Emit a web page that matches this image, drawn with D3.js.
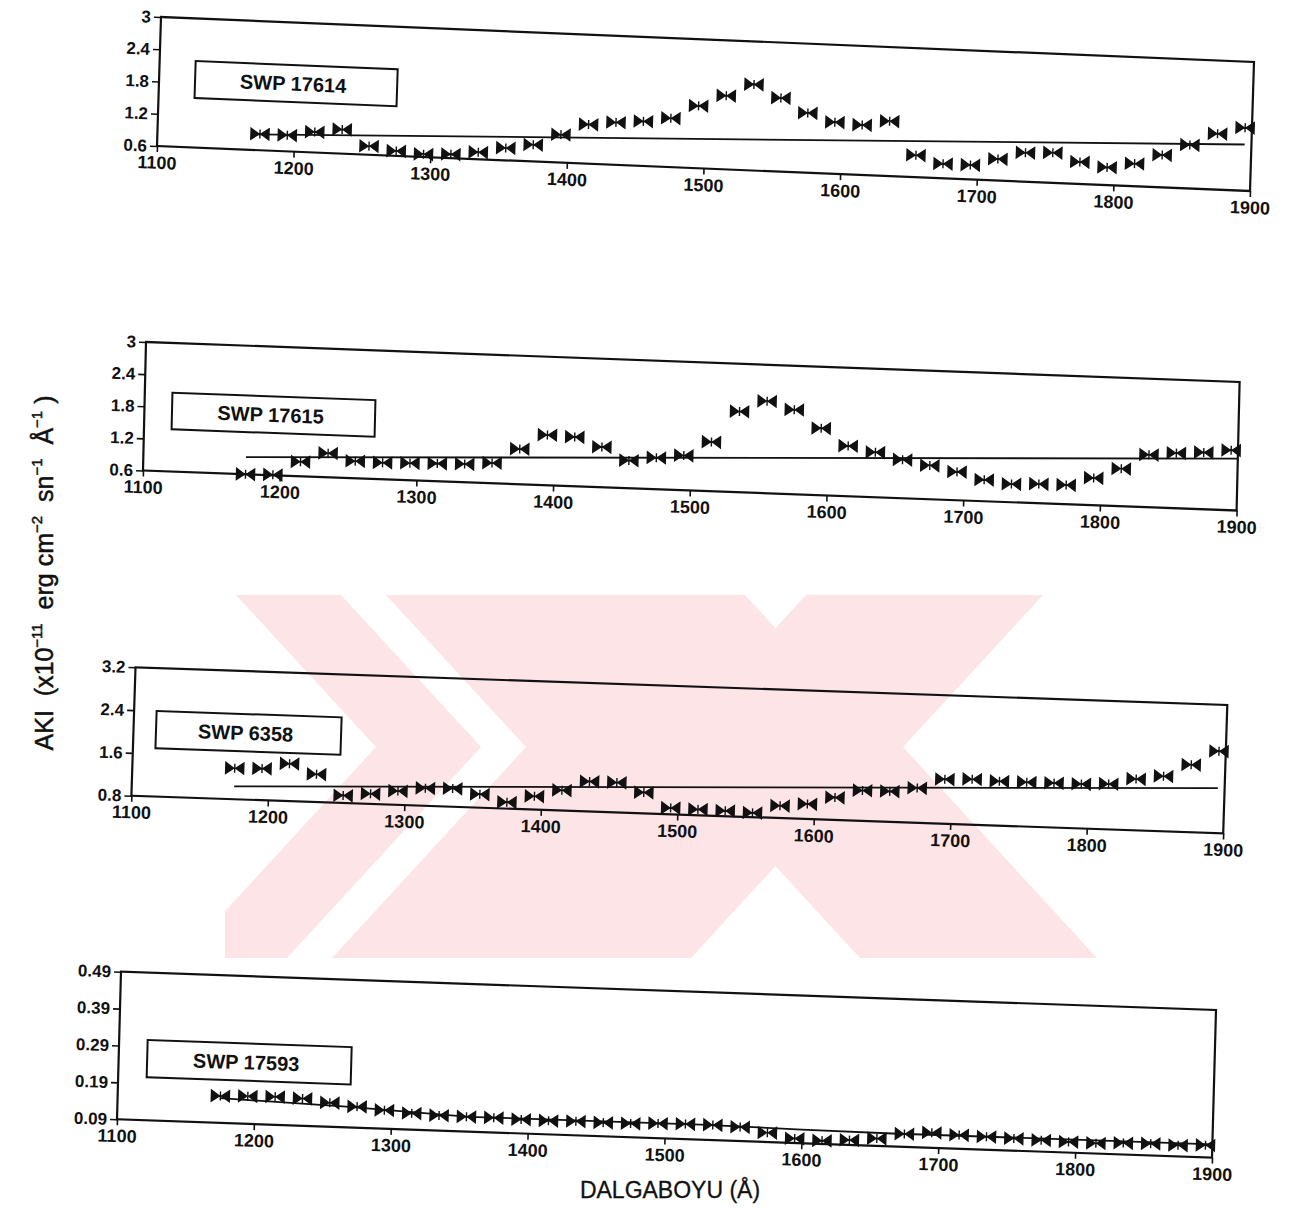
<!DOCTYPE html>
<html>
<head>
<meta charset="utf-8">
<script src="https://cdn.jsdelivr.net/npm/d3@7/dist/d3.min.js"></script>
<style>
html,body{margin:0;padding:0;background:#fff;}
svg{display:block;font-family:"Liberation Sans",Arial,Helvetica,sans-serif;}
</style>
</head>
<body>
<svg id="chart" width="1290" height="1208"></svg>
<script>
// ---------------- DATA ----------------
const wavelengths = [1175,1195,1215,1235,1255,1275,1295,1315,1335,1355,1375,1395,1415,1435,1455,1475,1495,1515,1535,1555,1575,1595,1615,1635,1655,1675,1695,1715,1735,1755,1775,1795,1815,1835,1855,1875,1895];

const swp17614 = [0.90,0.90,0.98,1.05,0.76,0.69,0.65,0.67,0.73,0.83,0.91,1.12,1.33,1.39,1.43,1.51,1.76,1.97,2.20,1.97,1.71,1.56,1.53,1.62,1.01,0.87,0.87,1.00,1.14,1.16,1.01,0.93,1.02,1.20,1.41,1.64,1.77];
const swp17615 = [0.60,0.61,0.87,1.05,0.92,0.91,0.92,0.93,0.94,0.98,1.26,1.54,1.52,1.35,1.12,1.19,1.25,1.52,2.11,2.32,2.18,1.85,1.54,1.44,1.32,1.23,1.13,1.00,0.94,0.96,0.96,1.11,1.30,1.58,1.63,1.66,1.72];
const swp6358  = [1.38,1.39,1.50,1.32,0.94,0.99,1.06,1.13,1.14,1.05,0.92,1.05,1.18,1.36,1.36,1.19,0.92,0.91,0.90,0.88,1.03,1.08,1.22,1.37,1.37,1.45,1.63,1.65,1.63,1.63,1.63,1.63,1.65,1.76,1.83,2.06,2.33];
const swp17593 = [0.163,0.165,0.166,0.164,0.155,0.147,0.140,0.134,0.131,0.130,0.130,0.128,0.127,0.128,0.127,0.127,0.130,0.131,0.131,0.128,0.115,0.102,0.099,0.103,0.110,0.125,0.131,0.127,0.125,0.123,0.121,0.119,0.118,0.121,0.122,0.120,0.123];

// continuum lines [wavelength, value]
const cont17614 = [[1169,0.89],[1895,1.46]];
const cont17615 = [[1175,0.92],[1900,1.57]];
const cont6358  = [[1175,1.04],[1895,1.64]];
const cont17593 = [[1175,0.157],[1267,0.146],[1357,0.130],[1526,0.131],[1600,0.127],[1666,0.125],[1900,0.126]];

const xTickValues = [1100,1200,1300,1400,1500,1600,1700,1800,1900];
const yTicks17614 = [0.6,1.2,1.8,2.4,3];
const yLabels17614 = ["0.6","1.2","1.8","2.4","3"];
const yTicks17615 = [0.6,1.2,1.8,2.4,3];
const yLabels17615 = ["0.6","1.2","1.8","2.4","3"];
const yTicks6358 = [0.8,1.6,2.4,3.2];
const yLabels6358 = ["0.8","1.6","2.4","3.2"];
const yTicks17593 = [0.09,0.19,0.29,0.39,0.49];
const yLabels17593 = ["0.09","0.19","0.29","0.39","0.49"];

const panelNames = ["SWP 17614","SWP 17615","SWP 6358","SWP 17593"];
const xTitle = "DALGABOYU (Å)";

// ---------------- LAYOUT (scanned, slightly sheared panels) ----------------
const panels = [
  {name:panelNames[0], values:swp17614, cont:cont17614, yDomain:[0.6,3],   yTicks:yTicks17614, yLabels:yLabels17614,
   TL:[161,17],    TR:[1254,62],    BL:[157,146],    box:[36,42.5,202,37]},
  {name:panelNames[1], values:swp17615, cont:cont17615, yDomain:[0.6,3],   yTicks:yTicks17615, yLabels:yLabels17615,
   TL:[146,342],   TR:[1239.6,382], BL:[143,470.5],  box:[27.6,49.7,203,36.6]},
  {name:panelNames[2], values:swp6358,  cont:cont6358,  yDomain:[0.8,3.2], yTicks:yTicks6358,  yLabels:yLabels6358,
   TL:[135.5,667.3],TR:[1227.3,705],BL:[131.4,795.7],box:[22.5,42.9,185,37.3]},
  {name:panelNames[3], values:swp17593, cont:cont17593, yDomain:[0.09,0.49],yTicks:yTicks17593, yLabels:yLabels17593,
   TL:[121,971.7], TR:[1216,1010],  BL:[117,1119.3], box:[28.5,67.3,204,37.3]}
];

const INK = "#111111";
const FONT = '"Liberation Sans", Arial, Helvetica, sans-serif';
const svg = d3.select("#chart");
svg.append("rect").attr("width",1290).attr("height",1208).attr("fill","#ffffff");

// ---------------- watermark (decorative) ----------------
const defs = svg.append("defs");
defs.append("clipPath").attr("id","wmclip")
  .append("rect").attr("x",225).attr("y",595).attr("width",890).attr("height",363);
const wm = svg.append("g").attr("clip-path","url(#wmclip)");
const wmPink = [
  [[236,595],[745,595],[885,747],[691,958],[182,958],[376,747]],
  [[806,595],[1043,595],[903,747],[1097,958],[860,958],[666,747]]
];
const wmWhite = [
  [[341,595],[386,595],[526,747],[332,958],[287,958],[481,747]]
];
wm.selectAll("polygon.p").data(wmPink).join("polygon").attr("class","p")
  .attr("fill","#fde4e7").attr("points", d => d.map(p => p.join(",")).join(" "));
wm.selectAll("polygon.w").data(wmWhite).join("polygon").attr("class","w")
  .attr("fill","#ffffff").attr("points", d => d.map(p => p.join(",")).join(" "));

// marker: bow-tie shape
const markerPath = "M-9,-5.5L-1,0L-9,5.5Z M9,-5.5L1,0L9,5.5Z M-9.5,0H9.5 M0,-4.5V4.5";

panels.forEach(P => {
  const W = P.TR[0]-P.TL[0], H = P.BL[1]-P.TL[1];
  const kb = (P.TR[1]-P.TL[1])/W, kc = (P.BL[0]-P.TL[0])/H;
  const g = svg.append("g").attr("transform", `matrix(1,${kb},${kc},1,${P.TL[0]},${P.TL[1]})`);

  const x = d3.scaleLinear().domain([1100,1900]).range([0,W]);
  const y = d3.scaleLinear().domain(P.yDomain).range([H,0]);

  // frame
  g.append("rect").attr("x",0).attr("y",0).attr("width",W).attr("height",H)
    .attr("fill","none").attr("stroke",INK).attr("stroke-width",2.2);

  // y axis
  const ya = g.append("g")
    .call(d3.axisLeft(y).tickValues(P.yTicks).tickFormat((d,j)=>P.yLabels[j]).tickSize(7).tickPadding(3));
  ya.select(".domain").remove();
  ya.attr("font-size",17).attr("font-family",FONT).attr("font-weight","bold");
  ya.selectAll("line").attr("stroke",INK).attr("stroke-width",1.6);
  ya.selectAll("text").attr("fill",INK);

  // x axis
  const xa = g.append("g").attr("transform",`translate(0,${H})`)
    .call(d3.axisBottom(x).tickValues(xTickValues).tickFormat(d3.format("d")).tickSize(6).tickPadding(4));
  xa.select(".domain").remove();
  xa.attr("font-size",18).attr("font-family",FONT).attr("font-weight","bold");
  xa.selectAll("line").attr("stroke",INK).attr("stroke-width",1.6);
  xa.selectAll("text").attr("fill",INK);

  // label box
  g.append("rect").attr("x",P.box[0]).attr("y",P.box[1]).attr("width",P.box[2]).attr("height",P.box[3])
    .attr("fill","none").attr("stroke",INK).attr("stroke-width",2);
  g.append("text").attr("x",P.box[0]+P.box[2]/2-3).attr("y",P.box[1]+P.box[3]/2).attr("dy","0.36em")
    .attr("text-anchor","middle").attr("font-size",20).attr("font-weight","bold")
    .attr("font-family",FONT).attr("fill",INK).text(P.name);

  // continuum line
  const lineGen = d3.line().x(d=>x(d[0])).y(d=>y(d[1]));
  g.append("path").datum(P.cont).attr("d",lineGen)
    .attr("fill","none").attr("stroke",INK).attr("stroke-width",1.8);

  // markers
  g.selectAll("path.mk").data(wavelengths.map((w,j)=>[w,P.values[j]])).join("path")
    .attr("class","mk")
    .attr("transform", d=>`translate(${x(d[0])},${y(d[1])})`)
    .attr("d", markerPath)
    .attr("fill",INK).attr("stroke",INK).attr("stroke-width",1.4);
});

// y title (rotated)
const yt = svg.append("text")
  .attr("transform","translate(53,573) rotate(-90)")
  .attr("text-anchor","middle").attr("font-family",FONT).attr("font-size",25)
  .attr("fill",INK).attr("stroke",INK).attr("stroke-width",0.5).style("white-space","pre");
yt.append("tspan").text("AKI  (x10");
yt.append("tspan").attr("dy",-11).attr("font-size",15).text("−11");
yt.append("tspan").attr("dy",11).text("  erg cm");
yt.append("tspan").attr("dy",-11).attr("font-size",15).text("−2");
yt.append("tspan").attr("dy",11).text("  sn");
yt.append("tspan").attr("dy",-11).attr("font-size",15).text("−1");
yt.append("tspan").attr("dy",11).text("  Å");
yt.append("tspan").attr("dy",-11).attr("font-size",15).text("−1");
yt.append("tspan").attr("dy",11).text(" )");

// x title
svg.append("text").attr("x",670).attr("y",1198).attr("text-anchor","middle")
  .attr("font-family",FONT).attr("font-size",23).attr("fill",INK)
  .attr("stroke",INK).attr("stroke-width",0.3).text(xTitle);
</script>
</body>
</html>
